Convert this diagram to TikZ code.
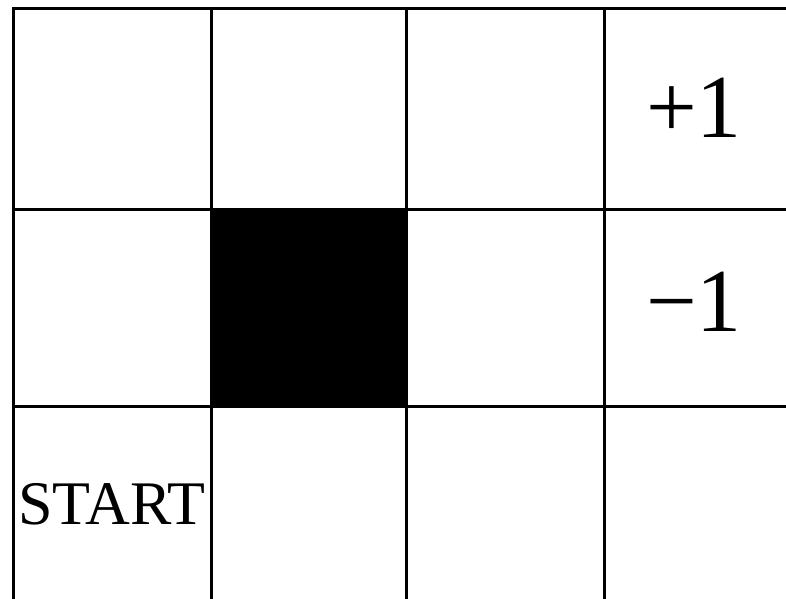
\documentclass[tikz,border=0pt]{standalone}
\usepackage{fontspec}
\setmainfont{Liberation Serif}
\begin{document}
\begin{tikzpicture}[x=1pt,y=-1pt,line width=3pt,line cap=rect,
  reward/.style={font=\fontsize{90}{96}\selectfont},
  startlabel/.style={font=\fontsize{62}{68}\selectfont}]
  \clip (0,0) rectangle (786,598);
  \fill[white] (0,0) rectangle (786,598);
  % the blocked cell
  \fill (211,209) rectangle (406,406);
  % grid lines, the right and bottom ones fall outside the picture
  \foreach \x in {13,211,406,604,801}{\draw (\x,8)--(\x,610);}
  \foreach \y in {8,209,406,603}{\draw (13,\y)--(800,\y);}
  % cell labels
  \node[reward] (plus) at (694,108) {+1};
  \node[reward] (minus) at (694,302) {−1};
  \node[startlabel] (start) at (112,504) {START};
\end{tikzpicture}
\end{document}
